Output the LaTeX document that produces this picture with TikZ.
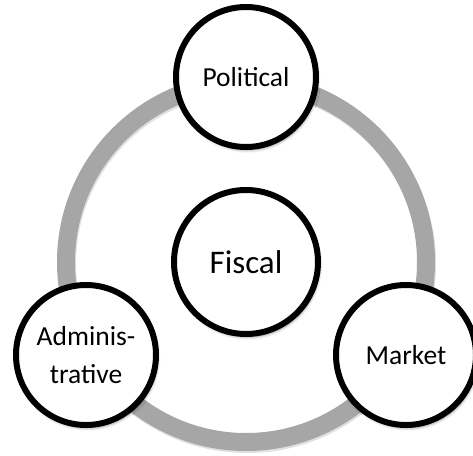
\documentclass[tikz,border=0pt]{standalone}
\usepackage{fontspec}
\setmainfont{Carlito}
\usetikzlibrary{shadows.blur}
\begin{document}
\begin{tikzpicture}[x=1pt,y=-1pt,
  ringline/.style={draw=black!35, line width=18pt},
  ringshade/.style={draw=black!12, line width=18pt},
  bubble/.style={circle, draw=black, line width=6pt, fill=white,
    minimum size=140pt, inner sep=0pt, align=center,
    font=\fontsize{27.5}{38}\selectfont,
    blur shadow={shadow xshift=1.5pt, shadow yshift=-3pt,
      shadow blur radius=3pt, shadow opacity=45}},
  hub/.style={bubble, minimum size=144pt, font=\fontsize{33}{40}\selectfont}]
  \useasboundingbox (0,0) rectangle (473,455);
  \coordinate (c) at (246,262);
  \coordinate (cs) at (247,264);
  % grey ring linking the three outer bubbles, with a faint offset shade
  \draw[ringshade] (cs) circle[radius=180pt];
  \draw[ringline] (c) circle[radius=180pt];
  \node[hub] (fiscal) at (c) {Fiscal};
  \node[bubble] (political) at (246,77) {Political};
  \node[bubble] (admin) at (86,355) {Adminis-\\trative};
  \node[bubble] (market) at (406,355) {Market};
\end{tikzpicture}
\end{document}
